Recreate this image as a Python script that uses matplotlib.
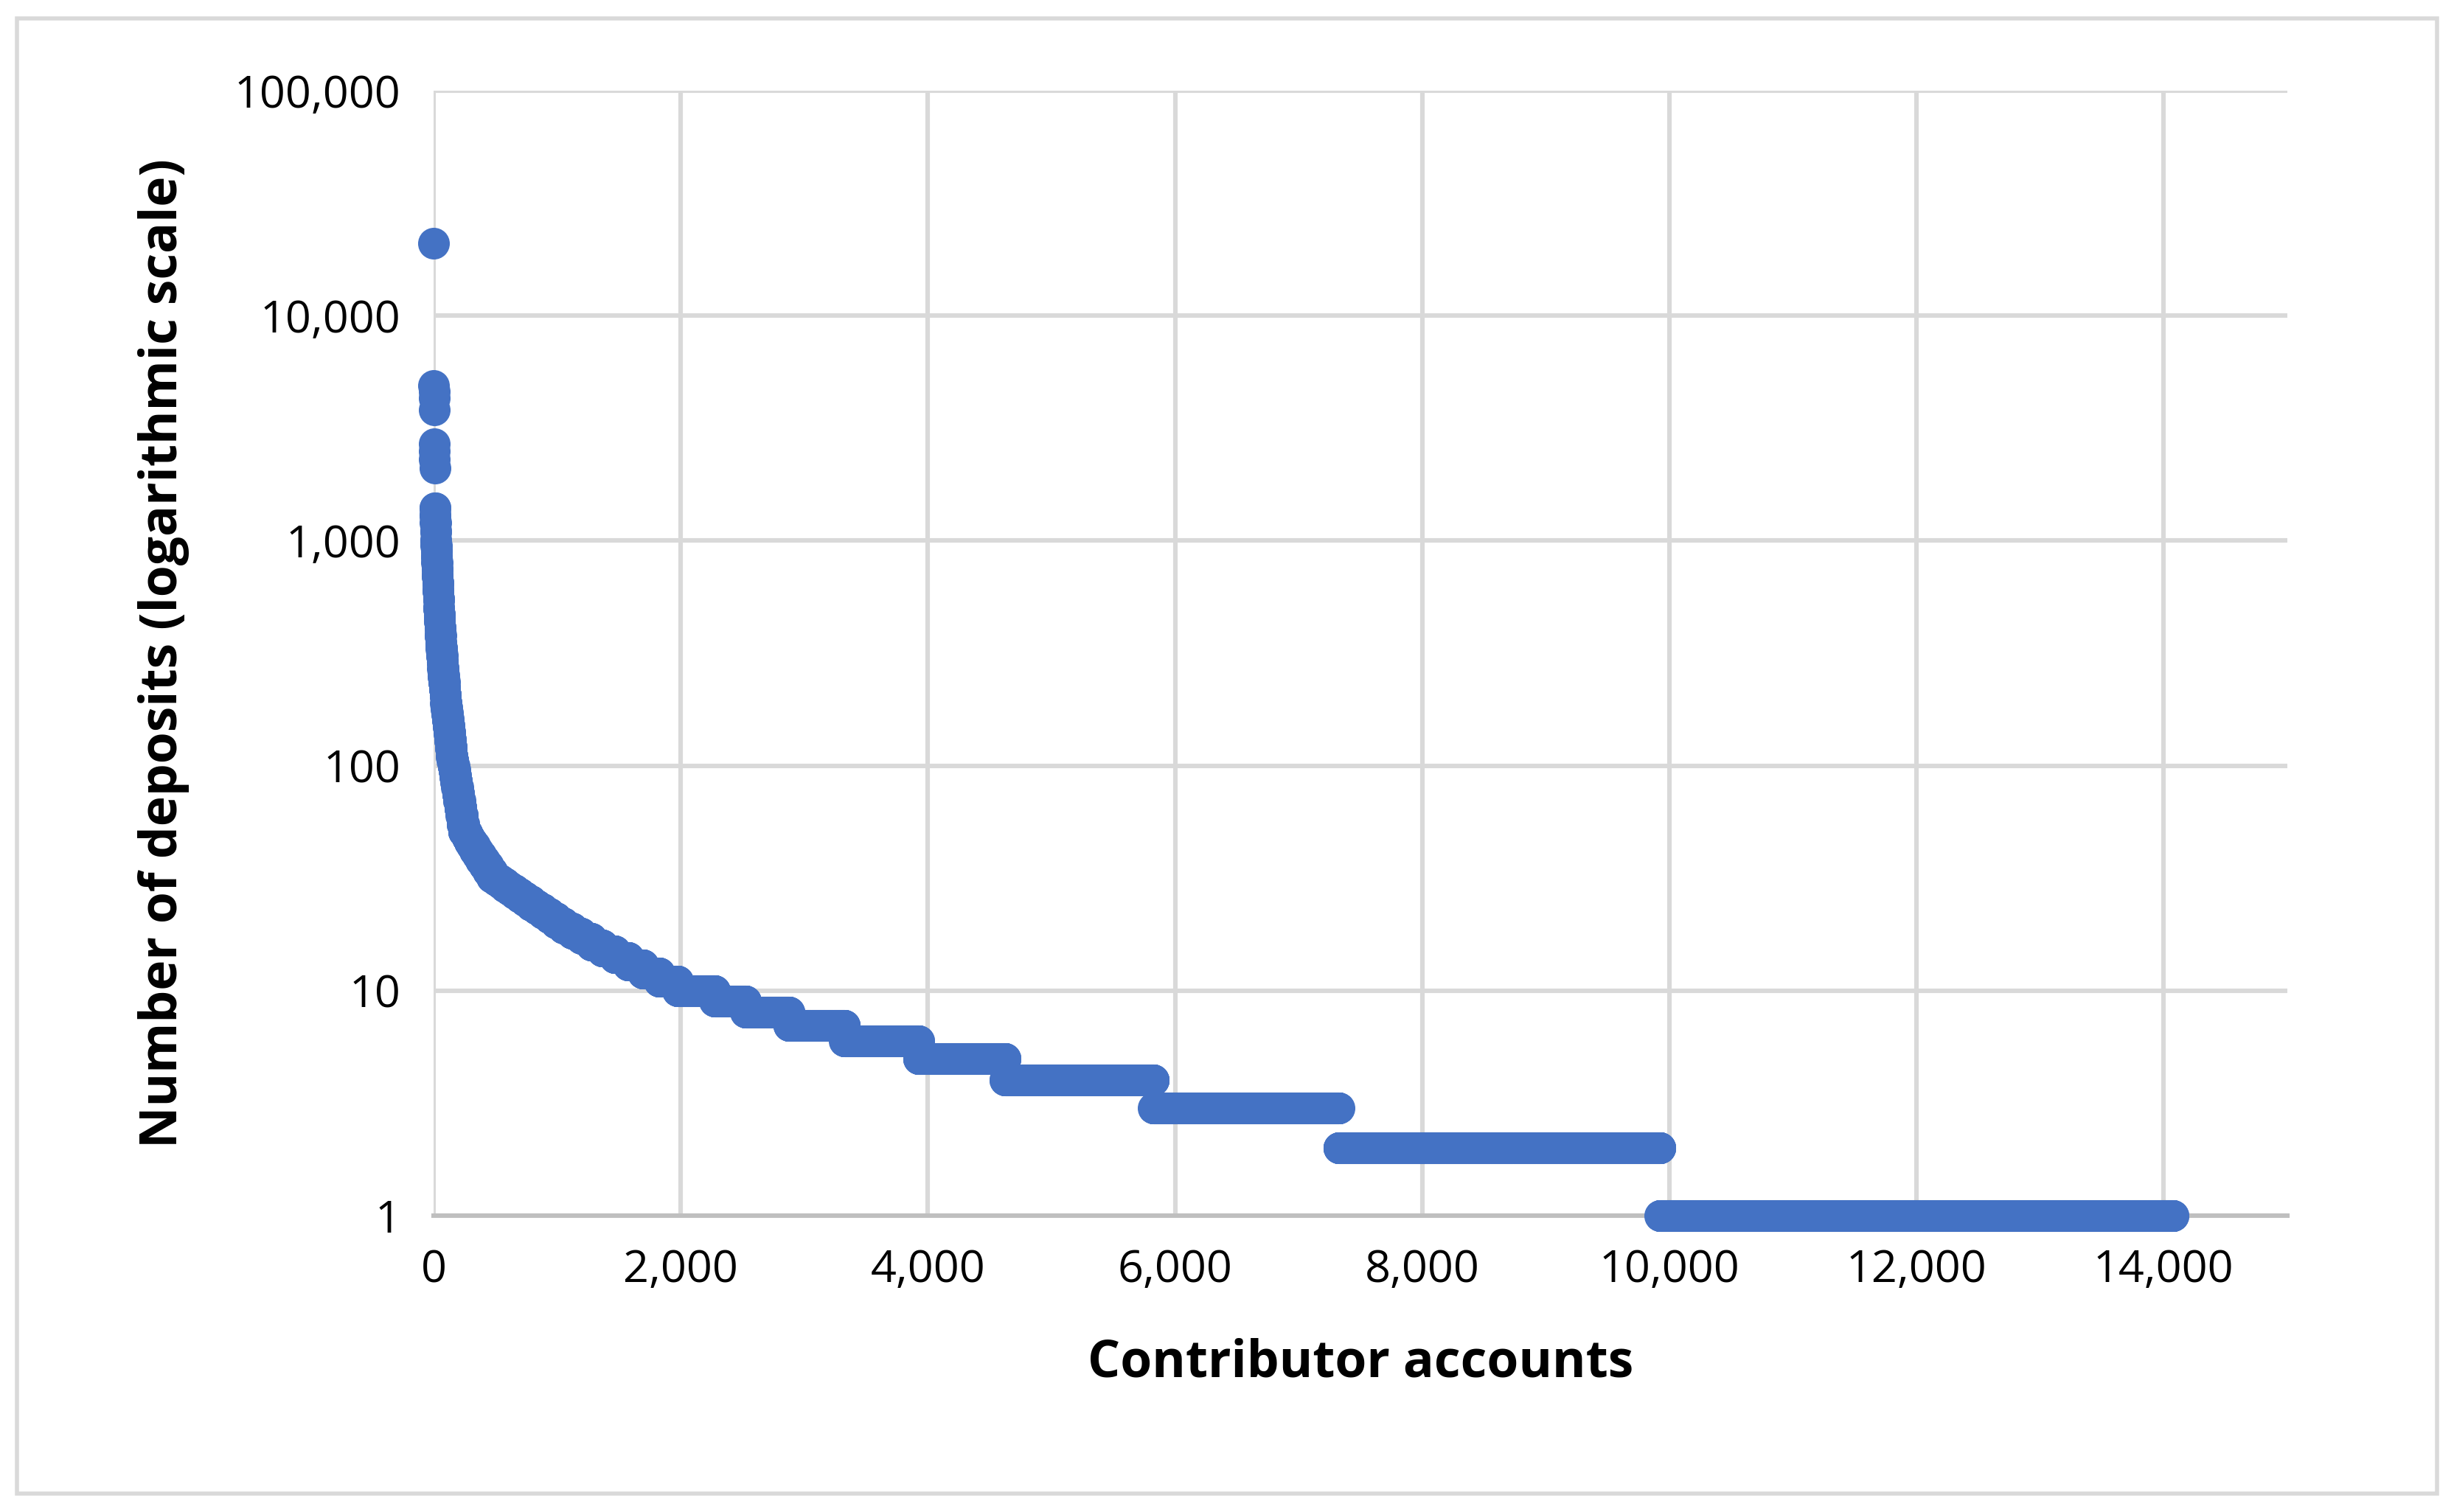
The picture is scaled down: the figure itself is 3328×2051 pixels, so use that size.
import numpy as np
import matplotlib
matplotlib.use("Agg")
import matplotlib.pyplot as plt
from matplotlib.ticker import FuncFormatter, FixedLocator
from matplotlib.patches import Rectangle

plt.rcParams['font.family'] = ['Open Sans', 'DejaVu Sans']

# Frequency table: number of deposits per account -> number of accounts with that count
deposit_levels = [21000, 4900, 4600, 4300, 3800, 2700, 2500, 2300, 2100, 1400, 1300, 1200, 1100, 1000,
                  950, 900, 850, 800, 750, 700, 650, 600, 550, 500, 470, 440, 410, 380, 350, 330,
                  310, 290, 270, 250, 235, 220, 205, 190, 180, 170, 160, 150, 140, 130, 120, 110, 105, 100,
                  95, 90, 85, 80, 75, 70, 65, 60, 55, 51,
                  50, 48, 46, 44, 42, 40, 38, 36, 34, 32, 31,
                  30, 29, 28, 27, 26, 25, 24, 23, 22, 21,
                  20, 19, 18, 17, 16, 15, 14, 13, 12, 11,
                  10, 9, 8, 7, 6, 5, 4, 3, 2, 1]
account_counts = [1, 1, 1, 1, 1, 1, 1, 1, 1, 2, 2, 2, 2, 2,
                  2, 2, 2, 2, 2, 3, 3, 3, 3, 3, 3, 3, 3, 4, 4, 4,
                  4, 4, 4, 5, 5, 5, 5, 5, 5, 5, 6, 6, 6, 6, 7, 7, 7, 7,
                  7, 7, 8, 8, 9, 9, 10, 10, 11, 12,
                  16, 18, 20, 22, 24, 26, 28, 30, 32, 34, 35,
                  36, 38, 40, 42, 44, 46, 48, 50, 52, 54,
                  60, 70, 75, 80, 90, 100, 110, 120, 130, 150,
                  300, 250, 350, 450, 600, 700, 1200, 1500, 2600, 4150]

x_ticks = [0, 2000, 4000, 6000, 8000, 10000, 12000, 14000]
y_ticks = [1, 10, 100, 1000, 10000, 100000]

values = np.repeat(deposit_levels, account_counts)
ranks = np.arange(1, len(values) + 1)

fig = plt.figure(figsize=(16.64, 10.255), dpi=200)
ax = fig.add_axes([0.1767, 0.196, 0.7553, 0.744])
ax.scatter(ranks, values, s=240, color='#4472C4', linewidths=0, zorder=3, clip_on=False)
ax.set_yscale('log')
ax.set_ylim(1, 100000)
ax.set_xlim(0, 15000)
ax.xaxis.set_major_locator(FixedLocator(x_ticks))
ax.yaxis.set_major_locator(FixedLocator(y_ticks))
ax.yaxis.set_minor_locator(FixedLocator([]))
fmt = FuncFormatter(lambda v, p: f"{int(round(v)):,}")
ax.xaxis.set_major_formatter(fmt)
ax.yaxis.set_major_formatter(fmt)
ax.grid(True, color='#D9D9D9', linewidth=2.2, zorder=0)
for s in ['top', 'right', 'left']:
    ax.spines[s].set_visible(False)
ax.spines['bottom'].set_color('#BFBFBF')
ax.spines['bottom'].set_linewidth(2.2)
ax.tick_params(length=0, labelsize=22, colors='black', pad=16)
ax.set_xlabel('Contributor accounts', fontsize=25, fontweight='bold', labelpad=22)
ax.set_ylabel('Number of deposits (logarithmic scale)', fontsize=25, fontweight='bold', labelpad=22)
fig.patches.append(Rectangle((0.007, 0.012), 0.986, 0.976, transform=fig.transFigure,
                             fill=False, edgecolor='#D9D9D9', linewidth=2))
fig.savefig('out.png', dpi=200)
